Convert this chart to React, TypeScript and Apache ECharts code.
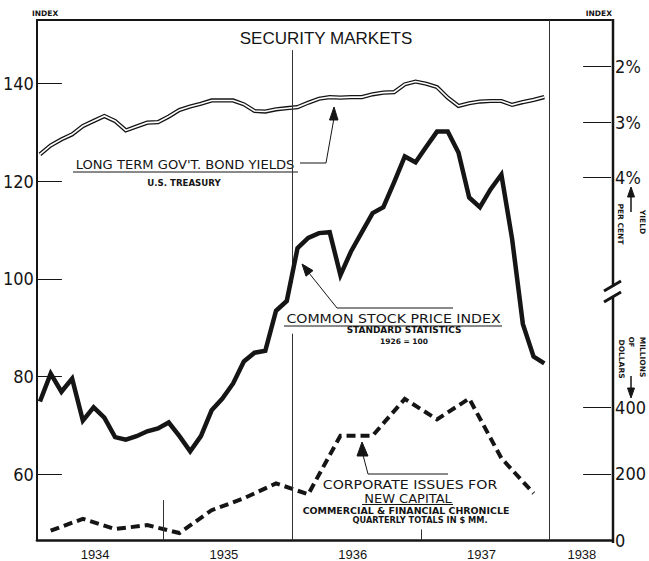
import React, { useEffect, useRef } from 'react';
import * as echarts from 'echarts';

// Common stock price index (Standard Statistics, 1926 = 100), monthly Jan 1934 – Dec 1937
const stockIndex = [
  74.9, 80.6, 76.9, 79.6, 71.0, 73.7, 71.6, 67.6, 67.1, 67.8, 68.8, 69.4,
  70.6, 67.8, 64.7, 67.8, 73.1, 75.5, 78.6, 83.1, 84.9, 85.3, 93.5, 95.5,
  106.3, 108.4, 109.4, 109.6, 100.8, 105.7, 109.6, 113.5, 114.7, 119.8, 125.1, 123.9,
  127.1, 130.2, 130.2, 125.9, 116.7, 114.7, 118.4, 121.4, 108.2, 90.8, 84.1, 82.7,
];

// Long term government bond yields (per cent), monthly Jan 1934 – Dec 1937
const bondYield = [
  3.58, 3.42, 3.31, 3.22, 3.07, 2.98, 2.89, 2.98, 3.15, 3.08, 3.01, 3.0,
  2.9, 2.78, 2.72, 2.67, 2.61, 2.61, 2.61, 2.68, 2.8, 2.81, 2.77, 2.75,
  2.73, 2.65, 2.58, 2.55, 2.56, 2.55, 2.55, 2.5, 2.47, 2.46, 2.32, 2.27,
  2.31, 2.37, 2.56, 2.71, 2.66, 2.63, 2.62, 2.62, 2.69, 2.64, 2.6, 2.55,
];

// Corporate issues for new capital, quarterly totals in $ millions, 1934 Q1 – 1937 Q4
const corporateIssues = [28, 64, 33, 45, 21, 90, 126, 171, 138, 315, 315, 426, 364, 427, 247, 141];

const years = [1934, 1935, 1936, 1937, 1938];
const indexTicks = [60, 80, 100, 120, 140];
const yieldTicks = [2, 3, 4];
const millionTicks = [0, 200, 400];

const monthX = (i: number) => 1934 + (i + 0.5) / 12;
const quarterX = (i: number) => 1934 + (i + 0.5) / 4;

const X_MIN = 1934.018;
const X_MAX = 1938.477;
const IDX_MIN = 46.53;
const IDX_MAX = 153.06;
const YLD_MIN = 1.163;
const YLD_MAX = 10.518;
const MIL_MIN = 0;
const MIL_MAX = 1570;

const INK = '#151515';
const NUM_FONT = '"Liberation Sans Narrow", "DejaVu Sans Condensed", "Liberation Sans", sans-serif';
const ANN_FONT = '"DejaVu Sans", "Liberation Sans", sans-serif';

function txt(text: string, x: number, y: number, size: number, opts: any = {}) {
  return {
    type: 'text',
    x,
    y,
    rotation: opts.rotation || 0,
    scaleX: opts.scaleX || 1,
    silent: true,
    style: {
      text,
      fill: INK,
      fontSize: size,
      fontFamily: opts.family || ANN_FONT,
      fontWeight: opts.bold ? 'bold' : 'normal',
      align: opts.align || 'center',
      verticalAlign: 'middle',
      textAlign: opts.align || 'center',
      textVerticalAlign: 'middle',
    },
  };
}

function ln(points: number[][], width = 1) {
  return {
    type: 'polyline',
    silent: true,
    shape: { points },
    style: { stroke: INK, lineWidth: width, fill: null },
  };
}

function tri(points: number[][]) {
  return {
    type: 'polygon',
    silent: true,
    shape: { points },
    style: { fill: INK, stroke: INK, lineWidth: 1 },
  };
}

export default function App() {
  const ref = useRef<HTMLDivElement>(null);

  useEffect(() => {
    document.body.style.margin = '0';
    const chart = echarts.init(ref.current!, undefined, { renderer: 'svg' });

    const option: any = {
      animation: false,
      backgroundColor: '#ffffff',
      grid: { left: 32, right: 36, top: 20, bottom: 19, show: false },
      xAxis: [
        {
          type: 'value',
          min: X_MIN,
          max: X_MAX,
          position: 'bottom',
          axisLine: { show: true, onZero: false, lineStyle: { color: INK, width: 2.5 } },
          axisTick: { show: false },
          splitLine: { show: false },
          axisLabel: {
            customValues: years.map((y) => (y === 1938 ? y + 0.25 : y + 0.47)),
            formatter: (v: number) => String(Math.floor(v + 1e-6)),
            color: INK,
            fontSize: 13,
            fontFamily: '"Liberation Sans", sans-serif',
            margin: 8,
          },
        },
        {
          type: 'value',
          min: X_MIN,
          max: X_MAX,
          position: 'top',
          axisLine: { show: true, onZero: false, lineStyle: { color: INK, width: 2 } },
          axisTick: { show: false },
          axisLabel: { show: false },
          splitLine: { show: false },
        },
      ],
      yAxis: [
        {
          type: 'value',
          min: IDX_MIN,
          max: IDX_MAX,
          position: 'left',
          axisLine: { show: true, onZero: false, lineStyle: { color: INK, width: 2 } },
          axisTick: { show: true, inside: true, length: 25, customValues: indexTicks, lineStyle: { color: INK, width: 1 } },
          axisLabel: { customValues: indexTicks, color: INK, fontSize: 18, fontFamily: NUM_FONT, margin: 3 },
          splitLine: { show: false },
        },
        {
          type: 'value',
          min: YLD_MIN,
          max: YLD_MAX,
          inverse: true,
          position: 'right',
          axisLine: { show: false },
          axisTick: { show: true, inside: true, length: 28, customValues: yieldTicks, lineStyle: { color: INK, width: 1 } },
          axisLabel: { customValues: yieldTicks, formatter: (v: number) => v + '%', color: INK, fontSize: 18, fontFamily: NUM_FONT, margin: 4 },
          splitLine: { show: false },
        },
        {
          type: 'value',
          min: MIL_MIN,
          max: MIL_MAX,
          position: 'right',
          axisLine: { show: false },
          axisTick: { show: true, inside: true, length: 28, customValues: [200, 400], lineStyle: { color: INK, width: 1 } },
          axisLabel: { customValues: millionTicks, color: INK, fontSize: 18, fontFamily: NUM_FONT, margin: 4 },
          splitLine: { show: false },
        },
      ],
      series: [
        {
          name: 'Corporate issues',
          type: 'line',
          yAxisIndex: 2,
          symbol: 'none',
          data: corporateIssues.map((v, i) => [quarterX(i), v]),
          lineStyle: { color: INK, width: 4, type: [9, 5], cap: 'butt', join: 'miter' },
          z: 3,
        },
        {
          name: 'Bond outer',
          type: 'line',
          yAxisIndex: 1,
          symbol: 'none',
          data: bondYield.map((v, i) => [monthX(i), v]),
          lineStyle: { color: INK, width: 4.2, join: 'miter' },
          z: 3,
        },
        {
          name: 'Bond inner',
          type: 'line',
          yAxisIndex: 1,
          symbol: 'none',
          data: bondYield.map((v, i) => [monthX(i), v]),
          lineStyle: { color: '#ffffff', width: 1.6, join: 'miter' },
          z: 4,
        },
        {
          name: 'Stock index',
          type: 'line',
          yAxisIndex: 0,
          symbol: 'none',
          data: stockIndex.map((v, i) => [monthX(i), v]),
          lineStyle: { color: INK, width: 4.5, join: 'miter', miterLimit: 4 },
          z: 5,
          markLine: {
            silent: true,
            symbol: ['none', 'none'],
            label: { show: false },
            lineStyle: { color: '#333', width: 1, type: 'solid' },
            data: [
              [{ coord: [1936, 146.9] }, { coord: [1936, 99.2] }],
              [{ coord: [1936, 88.8] }, { coord: [1936, IDX_MIN] }],
              [{ coord: [1938, IDX_MAX] }, { coord: [1938, IDX_MIN] }],
              [{ coord: [1935, 54.7] }, { coord: [1935, IDX_MIN] }],
              [{ coord: [1937, 48.7] }, { coord: [1937, IDX_MIN] }],
            ],
          },
        },
      ],
      graphic: [
        // right frame with break
        ln([[613, 19], [613, 287]], 2.5),
        ln([[613, 297], [613, 543]], 2.5),
        ln([[604, 291], [621, 281]], 3),
        ln([[604, 302], [621, 292]], 3),
        // title & axis headers
        txt('SECURITY MARKETS', 326, 38, 17, { family: '"Liberation Sans", sans-serif' }),
        txt('INDEX', 32, 13, 7.5, { bold: true, align: 'left' }),
        txt('INDEX', 612, 13, 7.5, { bold: true, align: 'right' }),
        // bond annotation
        txt("LONG TERM GOV'T. BOND YIELDS", 185, 165, 11.5, { scaleX: 1.14 }),
        ln([[73, 172], [298, 172]], 1),
        ln([[300, 163], [326, 163], [334, 118]], 1),
        tri([[334, 107], [329.5, 120], [338, 120]]),
        txt('U.S. TREASURY', 184, 183, 8, { bold: true, scaleX: 1.08 }),
        // stock annotation
        txt('COMMON STOCK PRICE INDEX', 393.5, 318, 13, { scaleX: 1.09 }),
        ln([[284, 326], [502, 326]], 1),
        ln([[453, 308], [337, 308], [309, 273]], 1),
        tri([[302, 264], [313, 270.6], [306, 276.2]]),
        txt('STANDARD STATISTICS', 404, 330, 8, { bold: true, scaleX: 1.12 }),
        txt('1926 = 100', 404, 341, 7.5, { bold: true }),
        // corporate annotation
        txt('CORPORATE ISSUES FOR', 410, 484, 13, { scaleX: 1.09 }),
        txt('NEW CAPITAL', 408, 498.5, 13),
        ln([[362, 504.5], [453, 504.5]], 1),
        ln([[448, 474], [368, 474], [363, 455]], 1),
        tri([[362, 442], [357, 456], [368, 456]]),
        txt('COMMERCIAL & FINANCIAL CHRONICLE', 406, 511.5, 8, { bold: true, scaleX: 1.18 }),
        txt('QUARTERLY TOTALS IN $ MM.', 420, 520, 8, { bold: true, scaleX: 1.03 }),
        // right side rotated unit labels
        txt('YIELD', 642, 222, 7.5, { bold: true, rotation: -Math.PI / 2 }),
        txt('PER CENT', 620, 224, 7.5, { bold: true, rotation: -Math.PI / 2 }),
        ln([[631, 212], [631, 195]], 1.5),
        tri([[631, 187], [627.5, 197], [634.5, 197]]),
        txt('MILLIONS', 642, 357, 7.5, { bold: true, rotation: -Math.PI / 2 }),
        txt('OF', 631, 342, 7, { bold: true, rotation: -Math.PI / 2 }),
        txt('DOLLARS', 621, 359, 7.5, { bold: true, rotation: -Math.PI / 2 }),
        ln([[631, 376], [631, 390]], 1.5),
        tri([[631, 398], [627.5, 388], [634.5, 388]]),
      ],
    };

    chart.setOption(option);
    return () => chart.dispose();
  }, []);

  return <div ref={ref} style={{ width: 649, height: 561 }} />;
}
